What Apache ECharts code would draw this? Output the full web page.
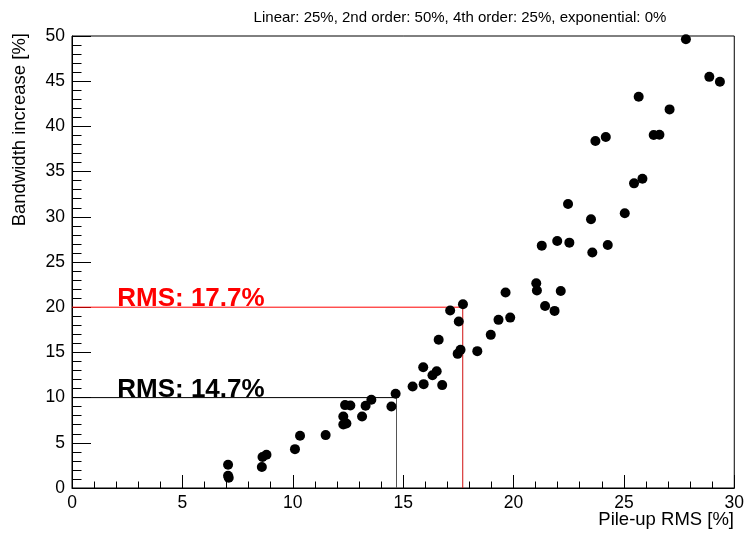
<!DOCTYPE html>
<html>
<head>
<meta charset="utf-8">
<script src="https://cdn.jsdelivr.net/npm/echarts@6/dist/echarts.min.js"></script>
<style>
html,body{margin:0;padding:0;background:#fff;}
#chart{width:747px;height:535px;}
</style>
</head>
<body>
<div id="chart"></div>
<script>
// ---- data ----
const titleText = 'Linear: 25%, 2nd order: 50%, 4th order: 25%, exponential: 0%';
const xAxisTitle = 'Pile-up RMS [%]';
const yAxisTitle = 'Bandwidth increase [%]';
const xTicks = [0, 5, 10, 15, 20, 25, 30];
const yTicks = [0, 5, 10, 15, 20, 25, 30, 35, 40, 45, 50];

const pileupRMS = [
  7.07, 7.07, 7.10, 8.60, 8.63, 8.81, 10.10, 10.33, 11.49, 12.29,
  12.29, 12.43, 12.37, 12.61, 13.14, 13.30, 13.56, 14.47, 14.66, 15.43,
  15.93, 15.91, 16.33, 16.52, 16.61, 16.77, 17.13, 17.52, 17.71, 17.47,
  17.60, 18.36, 18.97, 19.32, 19.64, 19.85, 21.03, 21.06, 21.43, 21.86,
  22.14, 23.57, 27.81, 28.87, 29.35, 25.67, 27.07, 23.71, 24.18, 26.35,
  26.61, 25.46, 25.84, 22.47, 23.51, 25.04, 21.28, 21.98, 22.53, 24.27
];
const bandwidthIncrease = [
  2.57, 1.36, 1.14, 2.32, 3.42, 3.68, 4.30, 5.78, 5.85, 7.91,
  7.03, 7.14, 9.17, 9.13, 7.91, 9.09, 9.76, 9.02, 10.42, 11.23,
  11.49, 13.35, 12.48, 12.91, 16.40, 11.38, 19.63, 18.41, 20.33, 14.84,
  15.28, 15.14, 16.94, 18.60, 21.62, 18.85, 22.65, 21.84, 20.14, 19.59,
  21.80, 26.06, 49.65, 45.48, 44.93, 43.27, 41.88, 38.38, 38.82, 39.04,
  39.07, 33.70, 34.21, 31.41, 29.72, 30.39, 26.81, 27.33, 27.14, 26.88
];

// threshold markers: bandwidth level -> pile-up RMS
const thresholdBandwidth = [10, 20];
const thresholdRMS = [14.7, 17.7];
const thresholdLabels = ['RMS: 14.7%', 'RMS: 17.7%'];
const thresholdLabelX = [2.05, 2.05];
const thresholdColors = ['#000000', '#ff0000'];
const thresholdVertColors = ['#555555', '#d01010'];

// ---- chart ----
const FONT = '"Liberation Sans", Arial, Helvetica, sans-serif';
const chart = echarts.init(document.getElementById('chart'), null, {renderer: 'canvas'});

const pts = pileupRMS.map((x, i) => [x, bandwidthIncrease[i]]);

const series = [];
thresholdBandwidth.forEach((yv, i) => {
  series.push({
    type: 'line',
    data: [[0, yv], [thresholdRMS[i], yv]],
    symbol: 'none',
    silent: true,
    lineStyle: {color: thresholdColors[i], width: 1, opacity: 1},
    z: 1
  });
  series.push({
    type: 'line',
    data: [[thresholdRMS[i], yv], [thresholdRMS[i], 0]],
    symbol: 'none',
    silent: true,
    lineStyle: {color: thresholdVertColors[i], width: 1, opacity: 1},
    z: 1
  });
  series.push({
    type: 'scatter',
    data: [[thresholdLabelX[i], yv]],
    symbolSize: 0,
    silent: true,
    itemStyle: {opacity: 1},
    label: {
      show: true,
      formatter: thresholdLabels[i],
      position: [0, 0],
      align: 'left',
      verticalAlign: 'bottom',
      offset: [0, 5],
      color: thresholdColors[i],
      opacity: 1,
      fontFamily: FONT,
      fontWeight: 'bold',
      fontSize: 26
    },
    z: 3
  });
});
series.push({
  type: 'scatter',
  data: pts,
  symbol: 'circle',
  symbolSize: 10,
  itemStyle: {color: '#000', opacity: 1},
  z: 5
});

chart.setOption({
  animation: false,
  backgroundColor: '#fff',
  title: {
    text: titleText,
    left: 455,
    textAlign: 'center',
    top: 5,
    textStyle: {fontFamily: FONT, fontWeight: 'normal', fontSize: 15, color: '#000'}
  },
  grid: {
    left: 72, right: 12, top: 36, bottom: 47,
    show: true, borderColor: '#000', borderWidth: 1, backgroundColor: 'transparent'
  },
  xAxis: {
    type: 'value',
    min: xTicks[0], max: xTicks[xTicks.length - 1], interval: xTicks[1] - xTicks[0],
    axisLine: {show: true, onZero: false, lineStyle: {color: '#000', width: 1}},
    axisTick: {show: true, inside: true, length: 13, lineStyle: {color: '#000'}},
    minorTick: {show: true, splitNumber: 5, length: 6.5, lineStyle: {color: '#000'}},
    splitLine: {show: false},
    axisLabel: {margin: 6, color: '#000', fontFamily: FONT, fontSize: 17.5}
  },
  yAxis: {
    type: 'value',
    min: yTicks[0], max: yTicks[yTicks.length - 1], interval: yTicks[1] - yTicks[0],
    axisLine: {show: true, onZero: false, lineStyle: {color: '#000', width: 1}},
    axisTick: {show: true, inside: true, length: 19, lineStyle: {color: '#000'}},
    minorTick: {show: true, splitNumber: 5, length: 9.5, lineStyle: {color: '#000'}},
    splitLine: {show: false},
    axisLabel: {margin: 7, color: '#000', fontFamily: FONT, fontSize: 17.5}
  },
  graphic: [
    {
      type: 'text',
      x: 734, y: 520,
      style: {text: xAxisTitle, fill: '#000', font: '18.5px ' + FONT, align: 'right', verticalAlign: 'middle'}
    },
    {
      type: 'text',
      x: 20, y: 33,
      rotation: Math.PI / 2,
      style: {text: yAxisTitle, fill: '#000', font: '18.5px ' + FONT, align: 'right', verticalAlign: 'middle'}
    }
  ],
  series: series
});
</script>
</body>
</html>
